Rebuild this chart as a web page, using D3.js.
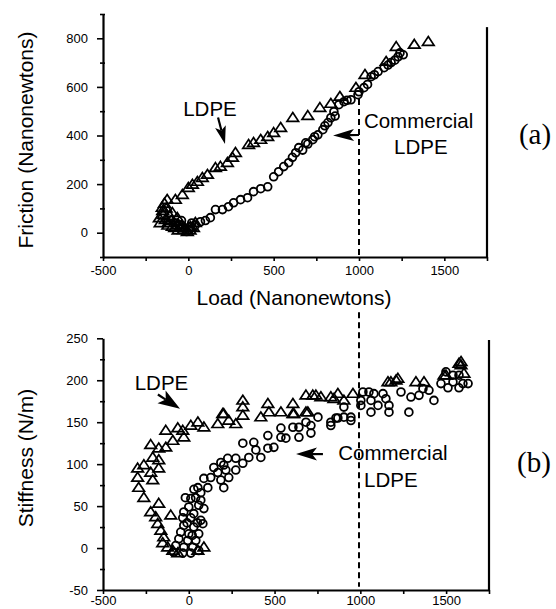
<!DOCTYPE html>
<html>
<head>
<meta charset="utf-8">
<script src="https://cdn.jsdelivr.net/npm/d3@7"></script>
<style>
  body { margin: 0; background: #fff; }
  text { font-family: "Liberation Sans", Arial, Helvetica, sans-serif; fill: #000; }
  .tick text { font-size: 13px; }
  .axisTitle { font-size: 21px; }
  .note { font-size: 20.5px; }
  .panel { font-family: "Liberation Serif", "Times New Roman", serif; font-size: 29px; }
</style>
</head>
<body>
<div id="chart"></div>
<script>
// Friction vs load (top panel), [load nN, friction nN]
var frictionLdpe = [
  [-124,136],[-153,103],[-147,74],[-135,53],[-118,41],[-94,25],[-65,33],[-47,21],[-29,12],[-6,4],
  [12,25],[41,41],[-65,62],[-94,82],[-76,136],[-35,156],[0,185],[24,198],[53,210],[82,226],
  [112,239],[159,267],[188,272],[229,288],[259,309],[276,329],[353,362],[382,370],[424,383],[465,395],
  [500,411],[541,432],[612,473],[700,481],[771,514],[835,531],[888,560],[982,597],[1035,650],[1159,704],
  [1218,765],[1324,774],[1406,786],[-170,60],[-165,40],[-150,90],[-140,120],[-120,30],[-100,50],[-80,20],
  [-60,10],[-40,30],[-20,20],[10,10],[30,20],[-130,100],[-110,70]
];
var frictionCommercial = [
  [6,12],[71,45],[129,62],[159,95],[200,95],[235,107],[265,123],[306,136],[347,144],[382,169],
  [424,181],[465,189],[500,230],[529,251],[559,272],[588,288],[629,329],[647,350],[688,370],[729,383],
  [759,403],[788,424],[818,453],[835,473],[853,498],[882,527],[912,539],[953,547],[994,568],[1029,597],
  [1071,642],[1112,663],[1147,679],[1188,700],[1229,724],[1259,732],[-50,30],[-30,20],[-10,5],[10,25],
  [20,40],[40,30],[-70,40],[-40,50],[100,50],[610,310],[670,340],[700,365],[740,395],[800,440],
  [860,480],[930,545],[1000,580],[1050,610],[1090,650],[1170,690],[1210,710],[1240,740]
];

// Stiffness vs load (bottom panel), [load nN, stiffness N/m]
var stiffnessLdpe = [
  [198,160],[233,152],[169,148],[88,144],[53,150],[12,146],[-35,140],[-64,143],[-134,140],[-29,132],
  [-93,128],[-134,120],[-222,123],[-175,119],[-210,108],[-175,105],[-262,99],[-298,95],[-298,84],[-222,90],
  [-175,95],[-210,81],[-292,72],[-262,60],[-175,53],[-222,43],[-193,37],[-105,39],[-181,29],[-163,21],
  [-146,13],[-152,6],[-123,1],[-93,-3],[-64,-6],[88,1],[53,-3],[204,160],[274,148],[315,176],
  [315,168],[315,158],[420,156],[461,172],[467,162],[537,162],[607,172],[607,160],[683,162],[723,182],
  [770,180],[846,178],[869,184],[957,184],[828,180],[1178,198],[1219,202],[1324,198],[1371,198],[1488,206],
  [1575,220],[1604,208],[683,182],[741,182],[694,162],[613,160],[904,176],[1161,198],[1208,200],[1587,222],
  [1587,218],[1499,206]
];
var stiffnessCommercial = [
  [227,107],[204,99],[169,90],[128,84],[88,83],[53,72],[111,72],[70,66],[12,59],[70,57],
  [0,49],[58,51],[-29,43],[29,41],[-35,36],[12,36],[70,33],[-29,27],[29,25],[-47,19],
  [0,17],[58,17],[-58,11],[-6,9],[41,9],[-76,3],[-29,1],[23,1],[-88,-5],[-35,-6],
  [12,-6],[58,-3],[82,29],[88,47],[146,96],[187,102],[187,81],[204,72],[216,93],[233,84],
  [274,107],[274,93],[315,101],[315,125],[350,108],[379,126],[391,117],[420,108],[461,134],[461,119],
  [496,120],[537,143],[537,132],[566,131],[607,144],[642,144],[642,132],[683,150],[712,146],[712,137],
  [753,156],[828,150],[828,146],[858,155],[869,155],[904,156],[945,156],[945,152],[904,168],[1015,186],
  [1003,176],[1003,170],[1062,176],[1062,162],[1103,170],[1132,184],[1149,178],[1167,170],[1167,162],[1050,186],
  [1079,184],[1237,186],[1283,162],[1295,180],[1342,182],[1365,190],[1400,188],[1429,176],[1470,196],[1499,210],
  [1540,206],[1540,198],[1575,206],[1598,196],[1575,191],[1511,191],[1628,196],
  [-20,60],[40,60],[30,70],[-10,30],[50,30],[20,15]
];

var loadTicks = [-500, 0, 500, 1000, 1500];
var frictionTicks = [0, 200, 400, 600, 800];
var stiffnessTicks = [-50, 0, 50, 100, 150, 200, 250];

var svgWidth = 556;
var svgHeight = 609;

var svg = d3.select("#chart")
  .append("svg")
  .attr("width", svgWidth)
  .attr("height", svgHeight);

var triangle = "M0,-5.2L5.8,3.6L-5.8,3.6Z";

// scales
var xTop = d3.scaleLinear().domain([-500, 1750]).range([103, 487]);
var yTop = d3.scaleLinear().domain([-100, 900]).range([257, 14]);
var xBot = d3.scaleLinear().domain([-500, 1750]).range([103, 489]);
var yBot = d3.scaleLinear().domain([-50, 250]).range([590, 338.3]);

function drawAxes(x, y, yMinor, yMajor, rightTop, labelPad) {
  var xAxis = d3.axisBottom(x)
    .tickValues(d3.range(-500, 1751, 250))
    .tickFormat(d => loadTicks.includes(d) ? d : "")
    .tickSizeInner(4).tickSizeOuter(0).tickPadding(labelPad);
  var gx = svg.append("g")
    .attr("transform", `translate(0, ${y.range()[0]})`)
    .call(xAxis);

  var yAxis = d3.axisLeft(y)
    .tickValues(yMinor)
    .tickFormat(d => yMajor.includes(d) ? d : "")
    .tickSizeInner(6).tickSizeOuter(0).tickPadding(9);
  var gy = svg.append("g")
    .attr("transform", `translate(${x.range()[0]}, 0)`)
    .call(yAxis);
  gy.selectAll(".tick")
    .filter(d => !yMajor.includes(d))
    .select("line").attr("x1", 2).attr("x2", -3);

  [gx, gy].forEach(function(g) {
    g.select(".domain").attr("stroke-width", 2.2);
    g.selectAll(".tick line").attr("stroke-width", 1.6);
    g.selectAll(".tick text").attr("fill", "#000");
  });

  // right frame line
  svg.append("line")
    .attr("x1", x.range()[1]).attr("x2", x.range()[1])
    .attr("y1", y(rightTop)).attr("y2", y.range()[0])
    .attr("stroke", "#000").attr("stroke-width", 2.2);
}

function drawPoints(x, y, ldpe, commercial) {
  svg.append("g").selectAll("path")
    .data(ldpe)
    .enter()
    .append("path")
    .attr("d", triangle)
    .attr("transform", d => `translate(${x(d[0])}, ${y(d[1])})`)
    .attr("fill", "none")
    .attr("stroke", "#000")
    .attr("stroke-width", 1.7);

  svg.append("g").selectAll("circle")
    .data(commercial)
    .enter()
    .append("circle")
    .attr("cx", d => x(d[0]))
    .attr("cy", d => y(d[1]))
    .attr("r", 3.9)
    .attr("fill", "none")
    .attr("stroke", "#000")
    .attr("stroke-width", 1.8);
}

// arrow with a notched, filled head
function arrow(x0, y0, x1, y1, len, wid, notch) {
  var dx = x1 - x0, dy = y1 - y0;
  var L = Math.sqrt(dx * dx + dy * dy);
  var ux = dx / L, uy = dy / L;
  var bx = x1 - ux * len, by = y1 - uy * len;
  svg.append("line")
    .attr("x1", x0).attr("y1", y0).attr("x2", bx + ux * notch).attr("y2", by + uy * notch)
    .attr("stroke", "#000").attr("stroke-width", 2.2);
  var pts = [[x1, y1], [bx - uy * wid / 2, by + ux * wid / 2], [bx + ux * notch, by + uy * notch], [bx + uy * wid / 2, by - ux * wid / 2]];
  svg.append("path")
    .attr("d", "M" + pts.join("L") + "Z")
    .attr("fill", "#000");
}

// top panel: friction
drawAxes(xTop, yTop, d3.range(-100, 901, 100), frictionTicks, 846, 5);
drawPoints(xTop, yTop, frictionLdpe, frictionCommercial);

// bottom panel: stiffness
drawAxes(xBot, yBot, d3.range(-50, 251, 25), stiffnessTicks, 248, 2);
drawPoints(xBot, yBot, stiffnessLdpe, stiffnessCommercial);

// dashed line at 1000 nN through both panels
svg.append("line")
  .attr("x1", xTop(1000)).attr("x2", xTop(1000))
  .attr("y1", yTop(550)).attr("y2", yTop(-100))
  .attr("stroke", "#000").attr("stroke-width", 2).attr("stroke-dasharray", "6,4");
svg.append("line")
  .attr("x1", xTop(1000)).attr("x2", xTop(1000))
  .attr("y1", yBot(281)).attr("y2", yBot(-46))
  .attr("stroke", "#000").attr("stroke-width", 2).attr("stroke-dasharray", "6,4");

// axis titles
svg.append("text")
  .attr("class", "axisTitle")
  .attr("transform", "translate(33, 140) rotate(-90)")
  .attr("text-anchor", "middle")
  .text("Friction (Nanonewtons)");

svg.append("text")
  .attr("class", "axisTitle")
  .attr("transform", "translate(33, 458) rotate(-90)")
  .attr("text-anchor", "middle")
  .text("Stiffness (N/m)");

svg.append("text")
  .attr("class", "axisTitle")
  .attr("x", 294).attr("y", 305)
  .attr("text-anchor", "middle")
  .text("Load (Nanonewtons)");

// annotations, top
svg.append("text").attr("class", "note")
  .attr("x", xTop(127)).attr("y", yTop(480))
  .attr("text-anchor", "middle").text("LDPE");
arrow(xTop(174), yTop(474), xTop(215), yTop(365), 18, 11, 4);

svg.append("text").attr("class", "note")
  .attr("x", xTop(1349)).attr("y", yTop(431))
  .attr("text-anchor", "middle").text("Commercial");
svg.append("text").attr("class", "note")
  .attr("x", xTop(1362)).attr("y", yTop(324))
  .attr("text-anchor", "middle").text("LDPE");
arrow(xTop(1000), yTop(402), xTop(848), yTop(400), 21, 12, 5);

// annotations, bottom
svg.append("text").attr("class", "note")
  .attr("x", xBot(-159)).attr("y", yBot(188))
  .attr("text-anchor", "middle").text("LDPE");
arrow(xBot(-180), yBot(183), xBot(-51), yBot(166), 22, 15, 5);

svg.append("text").attr("class", "note")
  .attr("x", xBot(1190)).attr("y", yBot(105))
  .attr("text-anchor", "middle").text("Commercial");
svg.append("text").attr("class", "note")
  .attr("x", xBot(1178)).attr("y", yBot(73))
  .attr("text-anchor", "middle").text("LDPE");
arrow(xBot(782), yBot(112), xBot(625), yBot(112), 21, 13, 5);

// panel letters
svg.append("text").attr("class", "panel")
  .attr("x", 535).attr("y", 144)
  .attr("text-anchor", "middle").text("(a)");
svg.append("text").attr("class", "panel")
  .attr("x", 534).attr("y", 472)
  .attr("text-anchor", "middle").text("(b)");
</script>
</body>
</html>
